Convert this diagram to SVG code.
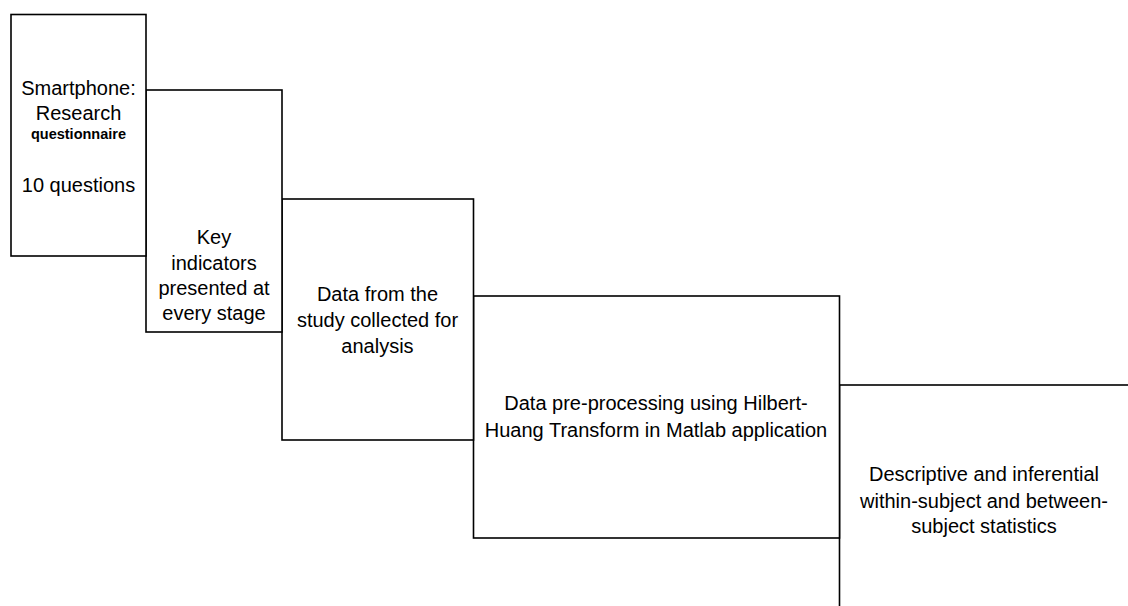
<svg xmlns="http://www.w3.org/2000/svg" width="1128" height="606" viewBox="0 0 1128 606">
<style>
.box{fill:#fff;stroke:#000;stroke-width:1.6}
text{font-family:"Liberation Sans",Arial,sans-serif;font-size:20px;fill:#000;text-anchor:middle}
.sm{font-size:14.5px;font-weight:bold}
</style>
<rect width="1128" height="606" fill="#fff"/>
<g id="connectors"></g>
<g id="n5"><rect class="box" x="839.5" y="385" width="300" height="300"/>
<text x="984" y="481">Descriptive and inferential</text>
<text x="984" y="507.5">within-subject and between-</text>
<text x="984" y="533">subject statistics</text></g>
<g id="n4"><rect class="box" x="473.5" y="296" width="366" height="242"/>
<text x="656" y="410">Data pre-processing using Hilbert-</text>
<text x="656" y="436.5">Huang Transform in Matlab application</text></g>
<g id="n3"><rect class="box" x="282" y="199" width="191.5" height="241"/>
<text x="377.5" y="300.5">Data from the</text>
<text x="377.5" y="326.5">study collected for</text>
<text x="377.5" y="353">analysis</text></g>
<g id="n2"><rect class="box" x="146" y="90" width="136" height="242"/>
<text x="214" y="244">Key</text>
<text x="214" y="269.5">indicators</text>
<text x="214" y="295">presented at</text>
<text x="214" y="320">every stage</text></g>
<g id="n1"><rect class="box" x="11" y="14.5" width="135" height="241.5"/>
<text x="78.5" y="95">Smartphone:</text>
<text x="78.5" y="120">Research</text>
<text class="sm" x="78.5" y="139">questionnaire</text>
<text x="78.5" y="191.5">10 questions</text></g>
</svg>
